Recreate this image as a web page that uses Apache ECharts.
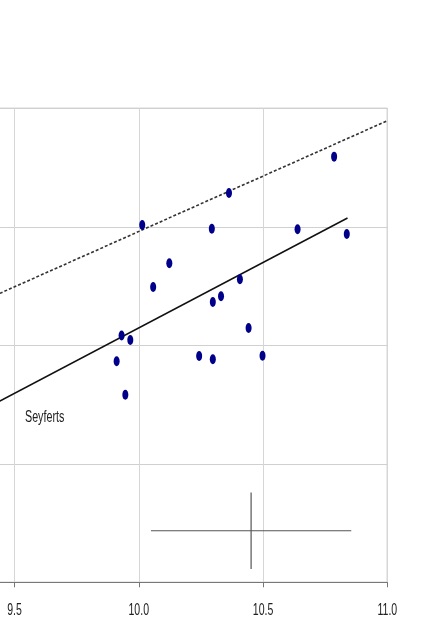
<!DOCTYPE html>
<html><head><meta charset="utf-8">
<script src="https://cdn.jsdelivr.net/npm/echarts@6/dist/echarts.min.js"></script>
<style>html,body{margin:0;padding:0;background:#fff;overflow:hidden;width:441px;height:632px;position:relative}#c{position:absolute;left:-110px;top:0;width:551px;height:632px}</style>
</head><body><div id="c"></div>
<script>
// Data
const galaxyX = [10.014, 10.294, 10.123, 10.058, 10.298, 10.331, 9.931, 9.966, 10.786, 10.363, 10.639, 10.837, 10.407, 10.442, 9.911, 9.946, 10.243, 10.298, 10.498];
const galaxyY = [9.015, 8.984, 8.692, 8.492, 8.365, 8.414, 8.083, 8.045, 9.592, 9.285, 8.979, 8.939, 8.557, 8.146, 7.865, 7.583, 7.910, 7.882, 7.912];
const xTickLabels = ['9.5', '10.0', '10.5', '11.0'];
const seyfertFitX = [9.0, 10.84];
const seyfertFitY = [7.042, 9.074];
const upperFitX = [9.0, 11.0];
const upperFitY = [8.026, 9.895];
const errorCenter = [10.452, 6.435];
const errorHalfX = 0.403;
const errorHalfY = 0.323;
const annotationText = 'Seyferts';

const TICK_FONT = '17px Liberation Sans, Arial, sans-serif';
const NOTE_FONT = '16px Liberation Sans, Arial, sans-serif';
const pts = galaxyX.map((x, i) => [x, galaxyY[i]]);
const seyfertLine = seyfertFitX.map((x, i) => [x, seyfertFitY[i]]);
const upperLine = upperFitX.map((x, i) => [x, upperFitY[i]]);

const chart = echarts.init(document.getElementById('c'), null, {renderer: 'canvas'});
chart.setOption({
  animation: false,
  backgroundColor: '#fff',
  grid: {left: 0.2, right: 53.7, top: 108.3, bottom: 49.7, show: true, borderColor: '#999', borderWidth: 1, backgroundColor: 'transparent'},
  xAxis: {
    type: 'value', min: 9.0, max: 11.0, interval: 0.5,
    axisLine: {show: true, lineStyle: {color: '#777', width: 1}},
    axisTick: {show: true, length: 5, lineStyle: {color: '#777'}},
    axisLabel: {show: false},
    splitLine: {show: true, lineStyle: {color: '#d6d6d6', width: 1}}
  },
  yAxis: {
    type: 'value', min: 6, max: 10, interval: 1,
    axisLine: {show: false}, axisTick: {show: false}, axisLabel: {show: false},
    splitLine: {show: true, lineStyle: {color: '#d0d0d0', width: 1}}
  },
  series: [
    {type: 'line', data: upperLine, showSymbol: false, symbol: 'none', lineStyle: {color: '#333', width: 1.6, type: [3, 2]}, z: 3},
    {type: 'line', data: seyfertLine, showSymbol: false, symbol: 'none', lineStyle: {color: '#111', width: 1.5}, z: 3},
    {type: 'line', data: [[errorCenter[0] - errorHalfX, errorCenter[1]], [errorCenter[0] + errorHalfX, errorCenter[1]]], symbol: 'none', lineStyle: {color: '#555', width: 1.2}, z: 3},
    {type: 'line', data: [[errorCenter[0], errorCenter[1] - errorHalfY], [errorCenter[0], errorCenter[1] + errorHalfY]], symbol: 'none', lineStyle: {color: '#555', width: 1.2}, z: 3},
    {type: 'scatter', data: pts, symbol: 'circle', symbolSize: [6, 10], itemStyle: {color: '#00008b', opacity: 1}, z: 5}
  ]
});

// Condensed text (tick labels + annotation), positioned through the axis scales
const baseY = chart.convertToPixel({yAxisIndex: 0}, 6);
const graphics = xTickLabels.map(t => ({
  type: 'text',
  x: chart.convertToPixel({xAxisIndex: 0}, Number(t)),
  y: baseY + 28,
  scaleX: 0.62,
  style: {text: t, font: TICK_FONT, fill: '#222', align: 'center', verticalAlign: 'middle'}
}));
graphics.push({
  type: 'text', x: 135, y: 418, scaleX: 0.67,
  style: {text: annotationText, font: NOTE_FONT, fill: '#222', align: 'left', verticalAlign: 'middle'}
});
chart.setOption({graphic: graphics});
</script></body></html>
